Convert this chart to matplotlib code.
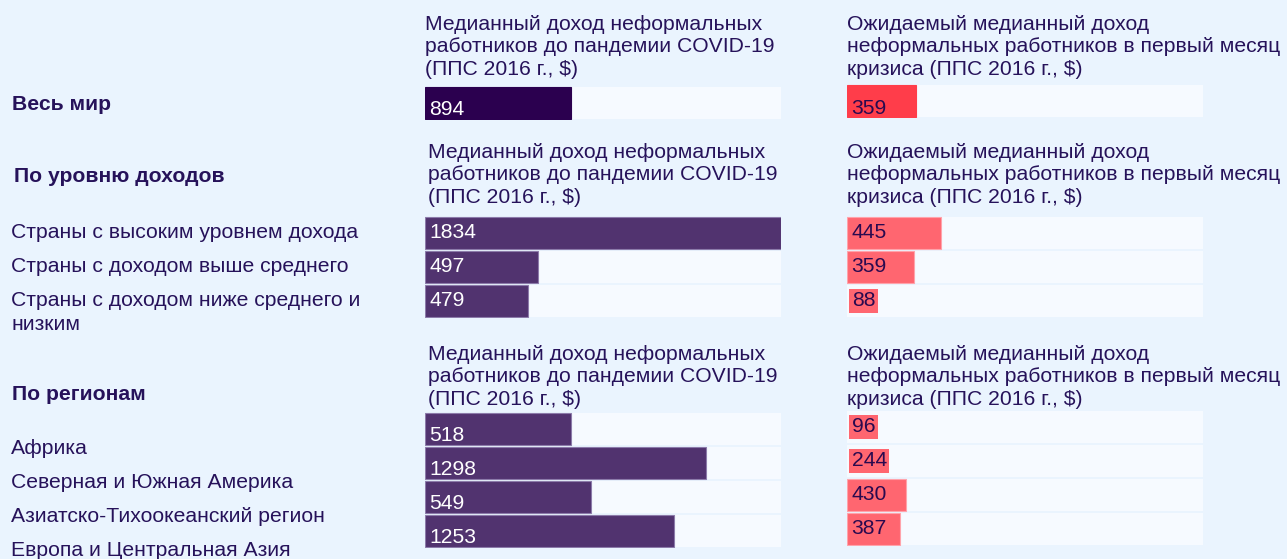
import matplotlib
matplotlib.use("Agg")
import matplotlib.pyplot as plt

# ---- data ----
world_label = ["Весь мир"]
income_labels = ["Страны с высоким уровнем дохода",
                 "Страны с доходом выше среднего",
                 "Страны с доходом ниже среднего и\nнизким"]
region_labels = ["Африка",
                 "Северная и Южная Америка",
                 "Азиатско-Тихоокеанский регион",
                 "Европа и Центральная Азия"]
group_titles = ["По уровню доходов", "По регионам"]

head_before = "Медианный доход неформальных\nработников до пандемии COVID-19\n(ППС 2016 г., $)"
head_after = "Ожидаемый медианный доход\nнеформальных работников в первый месяц\nкризиса (ППС 2016 г., $)"

world_before = [894]
world_after = [359]
income_before = [1834, 497, 479]
income_after = [445, 359, 88]
region_before = [518, 1298, 549, 1253]
region_after = [96, 244, 430, 387]

# bar fill as drawn in the source graphic (share of the track)
world_before_fill = [0.41]
world_after_fill = [0.195]
income_before_fill = [1.0, 0.317, 0.288]
income_after_fill = [0.265, 0.188, 0.0]
region_before_fill = [0.41, 0.79, 0.465, 0.70]
region_after_fill = [0.0, 0.0, 0.166, 0.149]

# ---- style ----
W, H = 1287, 559
BG = "#EAF4FE"
TRACK = "#F6FAFF"
INK = "#26125A"
FS = 15.2

plt.rcParams['font.family'] = ["Liberation Sans", 'DejaVu Sans']

fig = plt.figure(figsize=(W / 100, H / 100), dpi=100, facecolor=BG)


def fx(x):
    return x / W


def fy(y):
    return 1 - y / H


def bar_block(x0, x1, y0, y1, values, fills, color, txtcolor, edge, dy):
    ax = fig.add_axes([fx(x0), fy(y1), fx(x1 - x0), (y1 - y0) / H])
    ax.set_facecolor("none")
    n = len(values)
    rows = list(range(n))
    ax.barh(rows, [1] * n, height=0.93, color=TRACK, linewidth=0)
    for r, v, f in zip(rows, values, fills):
        if f > 0:
            ax.barh(r, f, height=0.93, color=color, edgecolor=edge, linewidth=0.8)
            ax.text(0.012, r + dy, str(v), color=txtcolor, fontsize=FS,
                    va="center", ha="left")
        else:
            # tiny value: only the label box is coloured
            ax.text(0.013, r + dy, str(v), color=txtcolor, fontsize=FS,
                    va="center", ha="left",
                    bbox=dict(boxstyle="square,pad=0.12", fc=color, ec="none"))
    ax.set_xlim(0, 1)
    ax.set_ylim(n - 0.5, -0.5)
    ax.axis("off")
    return ax


def header(x, ymid, s):
    fig.text(fx(x), fy(ymid), s, color=INK, fontsize=FS, va="center",
             ha="left", linespacing=1.24)


def label(x, y, s, bold=False):
    fig.text(fx(x), fy(y), s, color=INK, fontsize=FS, va="center",
             fontweight="bold" if bold else "normal")


LX0, LX1 = 425, 781
RX0, RX1 = 847, 1203

# world block
header(LX0, 47, head_before)
header(RX0, 47, head_after)
bar_block(LX0, LX1, 86, 120, world_before, world_before_fill,
          "#2B004F", "white", "#2B004F", 0.18)
bar_block(RX0, RX1, 84, 118, world_after, world_after_fill,
          "#FF3D4A", "#2A0A4F", "#FF3D4A", 0.22)
label(12, 105, world_label[0], bold=True)

# income block
label(14, 177, group_titles[0], bold=True)
header(LX0 + 3, 175, head_before)
header(RX0, 175, head_after)
bar_block(LX0, LX1, 216, 318, income_before, income_before_fill,
          "#51336F", "white", "#8C7BAA", 0.0)
bar_block(RX0, RX1, 216, 318, income_after, income_after_fill,
          "#FF6670", "#2A0A4F", "#FFA3AB", 0.0)
lines = "\n".join(income_labels).split("\n")
for i, lab in enumerate(lines):
    label(11, [233, 267, 301, 324][i], lab)

# region block
label(12, 395, group_titles[1], bold=True)
header(LX0 + 3, 377, head_before)
header(RX0, 377, head_after)
bar_block(LX0, LX1, 412, 548, region_before, region_before_fill,
          "#51336F", "white", "#8C7BAA", 0.2)
bar_block(RX0, RX1, 410, 546, region_after, region_after_fill,
          "#FF6670", "#2A0A4F", "#FFA3AB", 0.0)
for i, lab in enumerate(region_labels):
    label(11, 449 + 34 * i, lab)

fig.savefig("out.png", dpi=100, facecolor=BG)
